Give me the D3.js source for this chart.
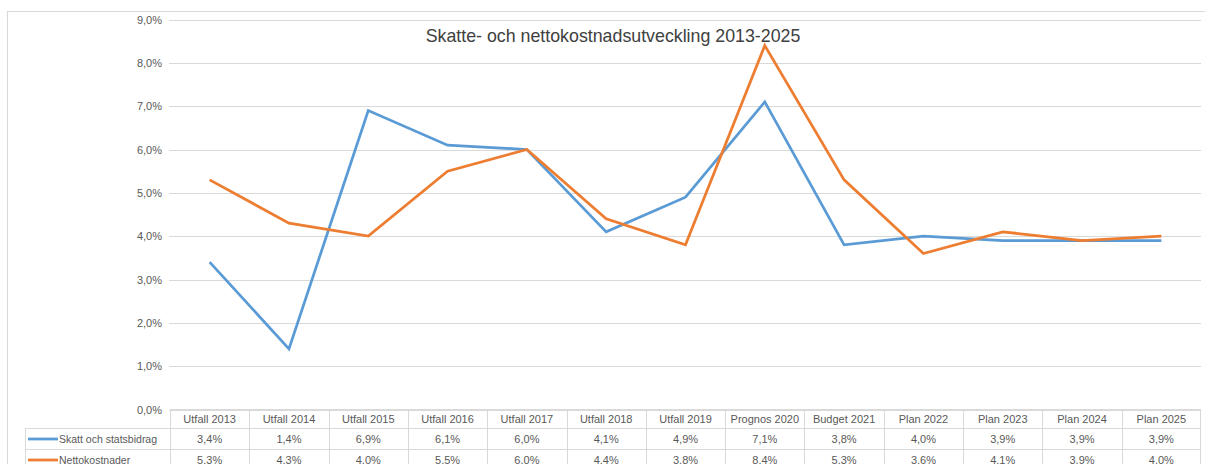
<!DOCTYPE html>
<html>
<head>
<meta charset="utf-8">
<title>Skatte- och nettokostnadsutveckling 2013-2025</title>
<script src="https://d3js.org/d3.v7.min.js"></script>
<style>
    body { margin: 0; background: #fff; }
    text { font-family: "Liberation Sans", Arial, sans-serif; fill: #595959; }
</style>
</head>
<body>
<div id="chart"></div>
<script>
    // categories along the x axis
    var categories = ["Utfall 2013", "Utfall 2014", "Utfall 2015", "Utfall 2016", "Utfall 2017",
        "Utfall 2018", "Utfall 2019", "Prognos 2020", "Budget 2021", "Plan 2022",
        "Plan 2023", "Plan 2024", "Plan 2025"]

    // series values in percent
    var skatt = [3.4, 1.4, 6.9, 6.1, 6.0, 4.1, 4.9, 7.1, 3.8, 4.0, 3.9, 3.9, 3.9]
    var netto = [5.3, 4.3, 4.0, 5.5, 6.0, 4.4, 3.8, 8.4, 5.3, 3.6, 4.1, 3.9, 4.0]

    var seriesNames = ["Skatt och statsbidrag", "Nettokostnader"]
    var yTicks = [0, 1, 2, 3, 4, 5, 6, 7, 8, 9]

    var width = 1205, height = 464
    var colors = ["#5B9BD5", "#ED7D31"]
    var fmt = function (v) { return v.toFixed(1).replace(".", ",") + "%" }

    var svg = d3.select("#chart").append("svg")
        .attr("width", width)
        .attr("height", height)

    // chart area border
    svg.append("rect")
        .attr("x", 7.5).attr("y", 11.5)
        .attr("width", width).attr("height", height)
        .attr("fill", "none").attr("stroke", "#D9D9D9")

    var x = d3.scaleBand().domain(categories).range([170, 1201])
    var y = d3.scaleLinear().domain([0, 9]).range([409.5, 19.5])

    // gridlines
    svg.append("g").selectAll("line")
        .data(yTicks)
        .enter().append("line")
        .attr("x1", 169).attr("x2", 1201)
        .attr("y1", function (d) { return Math.round(y(d)) + 0.5 })
        .attr("y2", function (d) { return Math.round(y(d)) + 0.5 })
        .attr("stroke", "#D9D9D9")
        .attr("stroke-width", 1)

    // y labels
    svg.append("g").selectAll("text")
        .data(yTicks)
        .enter().append("text")
        .attr("x", 162)
        .attr("y", function (d) { return y(d) + 4 })
        .attr("text-anchor", "end")
        .style("font-size", "11px")
        .text(function (d) { return fmt(d) })

    // title
    svg.append("text")
        .attr("x", 613)
        .attr("y", 42)
        .attr("text-anchor", "middle")
        .style("font-size", "17.8px")
        .style("fill", "#404040")
        .text("Skatte- och nettokostnadsutveckling 2013-2025")

    // lines
    var line = d3.line()
        .x(function (d, i) { return x(categories[i]) + x.bandwidth() / 2 })
        .y(function (d) { return y(d) })

    ;[skatt, netto].forEach(function (s, k) {
        svg.append("path")
            .datum(s)
            .attr("fill", "none")
            .attr("stroke", colors[k])
            .attr("stroke-width", 2.75)
            .attr("stroke-linejoin", "miter")
            .attr("d", line)
    })

    // data table
    var rowTop = [409.5, 428.5, 449.5, 470.5]
    var table = svg.append("g").attr("stroke", "#D9D9D9").attr("fill", "none")

    // horizontal table lines
    table.append("line").attr("x1", 170).attr("x2", 1201).attr("y1", rowTop[0]).attr("y2", rowTop[0])
    rowTop.slice(1).forEach(function (r) {
        table.append("line").attr("x1", 25).attr("x2", 1201).attr("y1", r).attr("y2", r)
    })
    // vertical table lines
    table.append("line").attr("x1", 25.5).attr("x2", 25.5).attr("y1", rowTop[1]).attr("y2", height)
    categories.forEach(function (c) {
        var xx = Math.round(x(c)) + 0.5
        table.append("line").attr("x1", xx).attr("x2", xx).attr("y1", rowTop[0]).attr("y2", height)
    })
    table.append("line").attr("x1", 1200.5).attr("x2", 1200.5).attr("y1", rowTop[0]).attr("y2", height)

    // header labels
    svg.append("g").selectAll("text")
        .data(categories)
        .enter().append("text")
        .attr("x", function (d) { return x(d) + x.bandwidth() / 2 })
        .attr("y", rowTop[0] + 13)
        .attr("text-anchor", "middle")
        .style("font-size", "11px")
        .text(function (d) { return d })

    // value rows with legend keys
    ;[skatt, netto].forEach(function (s, k) {
        var ty = rowTop[k + 1] + 14.5
        svg.append("line")
            .attr("x1", 28).attr("x2", 58)
            .attr("y1", ty - 4).attr("y2", ty - 4)
            .attr("stroke", colors[k])
            .attr("stroke-width", 2.75)
        svg.append("text")
            .attr("x", 59)
            .attr("y", ty)
            .style("font-size", "10.5px")
            .text(seriesNames[k])
        svg.append("g").selectAll("text")
            .data(s)
            .enter().append("text")
            .attr("x", function (d, i) { return x(categories[i]) + x.bandwidth() / 2 })
            .attr("y", ty)
            .attr("text-anchor", "middle")
            .style("font-size", "11px")
            .text(function (d) { return fmt(d) })
    })
</script>
</body>
</html>
